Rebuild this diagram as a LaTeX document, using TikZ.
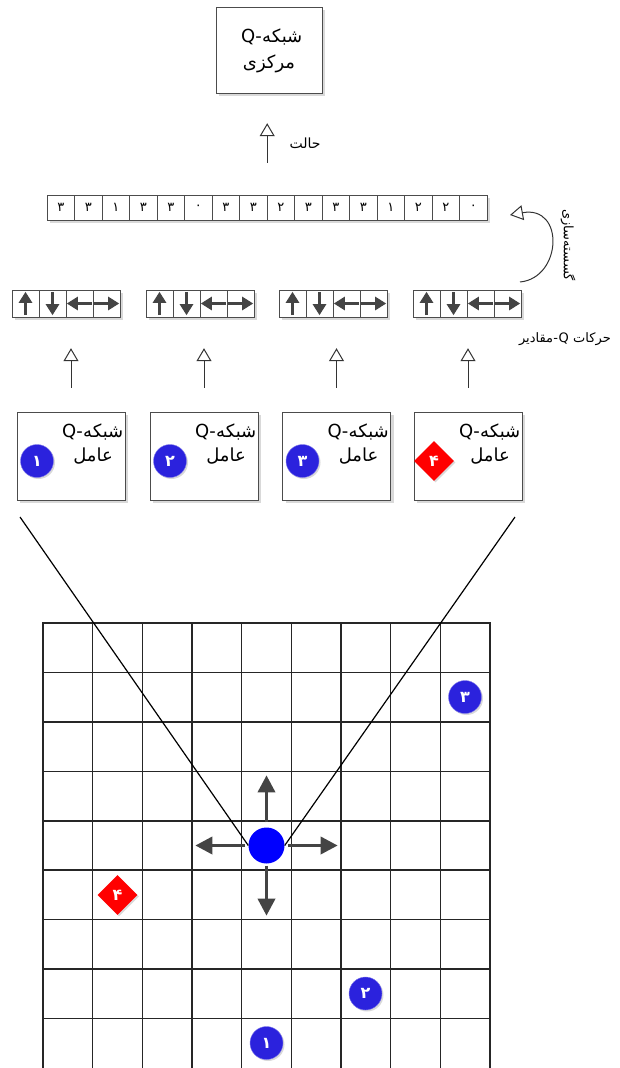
\documentclass[tikz,border=0pt]{standalone}
\usepackage{fontspec}
\setmainfont{DejaVu Sans}
\newfontfamily\fa[Script=Arabic]{DejaVu Sans}
\TeXXeTstate=1
\usepackage{tikz}
\usetikzlibrary{arrows.meta,positioning,shapes.geometric,shadows}

\definecolor{agentblue}{HTML}{2B22DD}
\definecolor{movegray}{HTML}{444444}

\begin{document}
\begin{tikzpicture}[
  x=1pt, y=-1pt,
  font=\fa\fontsize{13}{15}\selectfont,
  shade/.style={drop shadow={shadow xshift=3pt, shadow yshift=-3pt, fill=black!15, opacity=1}},
  box/.style={draw=black!70, fill=white, inner sep=0pt, align=center,
    minimum width=108pt, minimum height=88pt, shade},
  cell/.style={draw=black!70, fill=white, inner sep=0pt,
    minimum width=27.5pt, minimum height=25pt, shade},
  acell/.style={cell, minimum width=27pt, minimum height=27pt},
  badge/.style={circle, fill=agentblue, draw=agentblue!60!white, text=white,
    inner sep=0pt, minimum size=33pt, font=\fa\bfseries\fontsize{16}{16}\selectfont,
    drop shadow={shadow xshift=1.5pt, shadow yshift=-1.5pt, fill=black!15, opacity=1}},
  enemy/.style={diamond, fill=red, text=white, inner sep=0pt, minimum size=40pt,
    font=\fa\bfseries\fontsize{16}{16}\selectfont,
    drop shadow={shadow xshift=1.5pt, shadow yshift=-1.5pt, fill=black!15, opacity=1}},
  boxtext/.style={font=\fa\fontsize{18}{20}\selectfont, inner sep=0pt},
  word/.style={inner sep=0pt, anchor=base east},
  uparr/.style={-{Triangle[open, length=13pt, width=15pt]}, line width=1pt, draw=black!80},
  cellarr/.style={-{Triangle[length=11pt, width=13pt]}, line width=2.6pt, draw=movegray},
  move/.style={-{Triangle[length=17pt, width=17pt]}, line width=3.5pt, draw=movegray},
  gridline/.style={line width=1.5pt, draw=black!85},
  view/.style={line width=1.2pt, draw=black}
]
\useasboundingbox (0,0) rectangle (620,1068);

% shared network
\node[box, minimum width=106pt, minimum height=86pt] (qnet) at (269,50) {};
\node[boxtext, anchor=base west] (qnet1) at (262,42) {شبکه};
\node[boxtext, anchor=base east] (qnet0) at (qnet1.base west) {Q-};
\node[boxtext] (qnet2) at (269,64) {مرکزی};

% state vector
\foreach \d [count=\i] in {۳,۳,۱,۳,۳,۰,۳,۳,۲,۳,۳,۳,۱,۲,۲,۰}
  \node[cell] (s\i) at (47+27.5*\i-13.75,207.5) {\d};
\draw[uparr, shorten <=32pt, shorten >=30pt] (s8.north east) -- (s8.north east |- qnet.south);
\node[anchor=west, font=\fa\fontsize{14}{16}\selectfont] (state) at (286,143) {حالت};

% discretisation
\coordinate (dstart) at (520,282);
\coordinate (dend) at (510,215);
\draw[uparr] (dstart) .. controls (562,278) and (565,205) .. (dend);
\node[rotate=-90] (disc) at (568,245) {گسسته‌سازی};

% action values per agent
\foreach \x [count=\k] in {12,146,279,413} {
  \foreach \j in {1,...,4}
    \node[acell] (a\k-\j) at (\x+27*\j-13.5,303.5) {};
  \draw[cellarr] ([yshift=2pt]a\k-1.south) -- ([yshift=-2pt]a\k-1.north);
  \draw[cellarr] ([yshift=-2pt]a\k-2.north) -- ([yshift=2pt]a\k-2.south);
  \draw[cellarr] ([xshift=-1pt]a\k-3.east) -- ([xshift=1pt]a\k-3.west);
  \draw[cellarr] ([xshift=1pt]a\k-4.west) -- ([xshift=-1pt]a\k-4.east);
}
\node[word] (qv1) at (611,342) {حرکات};
\node[word] (qv2) at ([xshift=-4pt]qv1.base west) {Q};
\node[word] (qv3) at (qv2.base west) {-};
\node[word] (qv4) at (qv3.base west) {مقادیر};

% agents
\foreach \x/\n/\s [count=\k] in {71/۱/badge, 204/۲/badge, 336.5/۳/badge, 468/۴/enemy} {
  \node[box] (ag\k) at (\x,456) {};
  \node[boxtext, anchor=base west] (ag\k w) at (\x+12,437) {شبکه};
  \node[boxtext, anchor=base east] (ag\k q) at (ag\k w.base west) {Q-};
  \node[boxtext] (ag\k n) at (\x+22,456) {عامل};
  \node[\s] (ag\k b) at (\x-34,461) {\n};
  \draw[uparr, shorten <=24pt, shorten >=31pt] (ag\k.north) -- (ag\k.north |- a\k-1.south);
}

% grid world
\foreach \i in {0,...,9}
  \draw[gridline] (43+49.67*\i,623) -- (43+49.67*\i,1068);
\foreach \j in {0,...,8}
  \draw[gridline] (42.25,623+49.44*\j) -- (490.75,623+49.44*\j);

\node[circle, fill=blue, inner sep=0pt, minimum size=36pt] (me) at (266.5,845.5) {};
\coordinate (vl) at (20,517);
\coordinate (vr) at (515,517);
\draw[view] (vl) -- (me.west);
\draw[view] (vr) -- (me.east);
\draw[move] (me.north) ++(0,-5) -- ++(0,-47);
\draw[move] (me.south) ++(0,2) -- ++(0,50);
\draw[move] (me.west) ++(-3,0) -- ++(-50,0);
\draw[move] (me.east) ++(3,0) -- ++(50,0);

\node[badge] (g3) at (465,697) {۳};
\node[enemy] (g4) at (117.5,895) {۴};
\node[badge] (g2) at (365.5,993.5) {۲};
\node[badge] (g1) at (266.5,1043) {۱};
\end{tikzpicture}
\end{document}
